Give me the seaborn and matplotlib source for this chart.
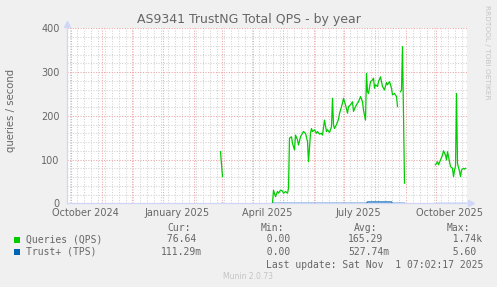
import numpy as np
import pandas as pd
import matplotlib
matplotlib.use("Agg")
import matplotlib.pyplot as plt
import matplotlib.dates as mdates
from matplotlib.patches import Rectangle
from matplotlib.ticker import MultipleLocator, FixedLocator
import seaborn as sns

# ---------------- data ----------------
title = "AS9341 TrustNG Total QPS - by year"
y_label = "queries / second"
series_names = ["Queries (QPS)", "Trust+ (TPS)"]
series_colors = ["#00cc00", "#0066b3"]

nan = np.nan
qps_dates = [
    "2025-02-28", "2025-03-02", "2025-03-03",
    "2025-04-21", "2025-04-22", "2025-04-24", "2025-04-26", "2025-04-27", "2025-04-29",
    "2025-05-01", "2025-05-02", "2025-05-04", "2025-05-06", "2025-05-07", "2025-05-08",
    "2025-05-10", "2025-05-11", "2025-05-13", "2025-05-14", "2025-05-16", "2025-05-17",
    "2025-05-19", "2025-05-21", "2025-05-22", "2025-05-24", "2025-05-26", "2025-05-27",
    "2025-05-29", "2025-05-30", "2025-05-31", "2025-06-02", "2025-06-04", "2025-06-05",
    "2025-06-07", "2025-06-09", "2025-06-10", "2025-06-12", "2025-06-14", "2025-06-15",
    "2025-06-17", "2025-06-19", "2025-06-20", "2025-06-21", "2025-06-22", "2025-06-24",
    "2025-06-26", "2025-06-27", "2025-06-28", "2025-06-30", "2025-07-01", "2025-07-03",
    "2025-07-05", "2025-07-06", "2025-07-08", "2025-07-10", "2025-07-11", "2025-07-13",
    "2025-07-15", "2025-07-16", "2025-07-18", "2025-07-20", "2025-07-21", "2025-07-23",
    "2025-07-24", "2025-07-25", "2025-07-26", "2025-07-28", "2025-07-30", "2025-07-31",
    "2025-08-01", "2025-08-02", "2025-08-04", "2025-08-05", "2025-08-07", "2025-08-08",
    "2025-08-09", "2025-08-11", "2025-08-13", "2025-08-14", "2025-08-16", "2025-08-18",
    "2025-08-19", "2025-08-21", "2025-08-23", "2025-08-24", "2025-08-25",
    "2025-08-27", "2025-08-28", "2025-08-29", "2025-08-31", "2025-09-01",
    "2025-10-01", "2025-10-03", "2025-10-04", "2025-10-06", "2025-10-08", "2025-10-09",
    "2025-10-11", "2025-10-12", "2025-10-13", "2025-10-15", "2025-10-16", "2025-10-18",
    "2025-10-19", "2025-10-20", "2025-10-21", "2025-10-22", "2025-10-23", "2025-10-25",
    "2025-10-26", "2025-10-27", "2025-10-29", "2025-10-30", "2025-10-31",
]
qps_values = [
    118, 61, nan,
    0, 30, 15, 27, 23, 30,
    28, 23, 27, 23, 34, 149,
    152, 137, 122, 156, 145, 133,
    152, 160, 164, 160, 141, 95,
    160, 171, 164, 168, 160, 164,
    158, 160, 156, 190, 164, 168,
    162, 175, 240, 179, 171, 180,
    192, 205, 213, 229, 240, 225,
    206, 221, 225, 232, 210, 221,
    229, 232, 244, 232, 213, 190,
    297, 255, 251, 278, 282, 286,
    263, 271, 267, 278, 289, 278,
    267, 259, 276, 271, 278, 263,
    248, 251, 244, 221, nan,
    255, 259, 358, 46, nan,
    88, 95, 88, 99, 110, 120,
    110, 99, 118, 95, 84, 80,
    61, 76, 84, 251, 91, 73,
    61, 76, 80, 78, 80,
]

trust_dates = ["2025-02-28", "2025-03-02", "2025-03-03", "2025-04-21", "2025-07-24",
               "2025-07-25", "2025-08-18", "2025-08-19", "2025-08-31", "2025-09-01",
               "2025-10-01", "2025-10-31"]
trust_values = [0, 0, nan, 0, 0, 3, 3, 0, 0, nan, 0, 0]

x_start = "2024-09-27"
x_end = "2025-11-01"
y_max = 400
y_major_ticks = [0, 100, 200, 300, 400]
x_label_months = ["2024-10-01", "2025-01-01", "2025-04-01", "2025-07-01", "2025-10-01"]
x_label_texts = ["October 2024", "January 2025", "April 2025", "July 2025", "October 2025"]

legend_headers = ["Cur:", "Min:", "Avg:", "Max:"]
legend_cur = ["76.64", "111.29m"]
legend_min = ["0.00", "0.00"]
legend_avg = ["165.29", "527.74m"]
legend_max = ["1.74k", "5.60"]
last_update = "Last update: Sat Nov  1 07:02:17 2025"
footer = "Munin 2.0.73"
side_text = "RRDTOOL / TOBI OETIKER"

# ---------------- figure ----------------
W, H = 497, 287
FONT = "#666666"
AXISC = "#cfd6f8"

def P(x, y):
    return (x / W, 1 - y / H)

fig = plt.figure(figsize=(W / 100, H / 100), dpi=100, facecolor="#f0f0f0")
L, R, T, B = 66.5, 466.5, 28.3, 203.3
ax = fig.add_axes([L / W, 1 - B / H, (R - L) / W, (B - T) / H])
ax.set_facecolor("white")

def make_df(dates, values, name):
    df = pd.DataFrame({"date": pd.to_datetime(dates), "value": values})
    df["segment"] = df["value"].isna().cumsum()
    df = df.dropna()
    df["series"] = name
    return df

qdf = make_df(qps_dates, qps_values, series_names[0])
tdf = make_df(trust_dates, trust_values, series_names[1])

sns.lineplot(data=qdf, x="date", y="value", units="segment", estimator=None,
             color=series_colors[0], lw=0.9, ax=ax, legend=False)
sns.lineplot(data=tdf, x="date", y="value", units="segment", estimator=None,
             color=series_colors[1], lw=0.9, ax=ax, legend=False)

ax.set_xlim(pd.Timestamp(x_start), pd.Timestamp(x_end))
ax.set_ylim(0, y_max)
ax.set_xlabel("")
ax.set_ylabel("")

# grids
ax.xaxis.set_major_locator(mdates.MonthLocator(bymonthday=1))
ax.xaxis.set_minor_locator(mdates.WeekdayLocator(byweekday=mdates.MO))
ax.yaxis.set_major_locator(FixedLocator(y_major_ticks))
ax.yaxis.set_minor_locator(MultipleLocator(20))
ax.grid(which="major", color="#eea4a4", linestyle=(0, (1, 1.5)), lw=0.75)
ax.grid(which="minor", color="#d2d2d2", linestyle=(0, (1, 1.5)), lw=0.75)
ax.tick_params(axis="x", which="both", length=0, labelbottom=False)
ax.tick_params(axis="y", which="both", length=0)
ax.tick_params(axis="y", which="major", labelsize=7, labelcolor=FONT, pad=5)
ax.set_yticklabels([str(v) for v in y_major_ticks])

for s in ["top", "right"]:
    ax.spines[s].set_visible(False)
for s in ["left", "bottom"]:
    ax.spines[s].set_color(AXISC)
    ax.spines[s].set_linewidth(0.9)
    ax.spines[s].set_zorder(5)

# arrows
ax.plot([0], [(B - 24) / (B - T)], marker="^", color=AXISC, ms=4, transform=ax.transAxes,
        clip_on=False, zorder=6)
ax.plot([(470.5 - L) / (R - L)], [0], marker=">", color=AXISC, ms=4, transform=ax.transAxes,
        clip_on=False, zorder=6)

# x labels (centered mid-month)
xt = ax.get_xaxis_transform()
for m, txt in zip(x_label_months, x_label_texts):
    pos = pd.Timestamp(m) + pd.Timedelta(days=14.5)
    ax.text(pos, -(213.0 - B) / (B - T), txt, transform=xt, ha="center", va="center",
            fontsize=7, color=FONT, family="DejaVu Sans")

# title / labels
fig.text(*P(248.5, 19.5), title, ha="center", va="center", fontsize=9, color=FONT)
fig.text(*P(11, 110), y_label, ha="center", va="center", rotation=90, fontsize=7.3, color=FONT)
fig.text(*P(487, 5), side_text, ha="center", va="top", rotation=270, fontsize=5.3, color="#c4c4c4")

# legend
mono = "DejaVu Sans Mono"
hx = [167, 261, 354, 447]
for x, h in zip(hx, legend_headers):
    fig.text(*P(x, 228), h, ha="left", va="center", fontsize=7, color=FONT, family=mono)

def field(v):
    if v[-1].isalpha():
        return v[:-1].rjust(6) + v[-1]
    return v.rjust(6)

field_x = [161, 255.3, 348, 441.3]
rows_y = [239.5, 252]
for i, (name, col) in enumerate(zip(series_names, series_colors)):
    y = rows_y[i]
    fig.add_artist(Rectangle(P(14, y + 3), 6 / W, 6 / H, transform=fig.transFigure,
                             facecolor=col, edgecolor="none"))
    fig.text(*P(25.5, y), name, ha="left", va="center", fontsize=7, color=FONT, family=mono)
    vals = [legend_cur[i], legend_min[i], legend_avg[i], legend_max[i]]
    for v, x0 in zip(vals, field_x):
        fig.text(*P(x0, y), field(v), ha="left", va="center", fontsize=7, color=FONT, family=mono)

fig.text(*P(483.5, 264.5), last_update, ha="right", va="center", fontsize=7, color=FONT, family=mono)
fig.text(*P(248, 276.5), footer, ha="center", va="center", fontsize=5.5, color="#c4c4c4")

fig.savefig("out.png", dpi=100, facecolor=fig.get_facecolor())
